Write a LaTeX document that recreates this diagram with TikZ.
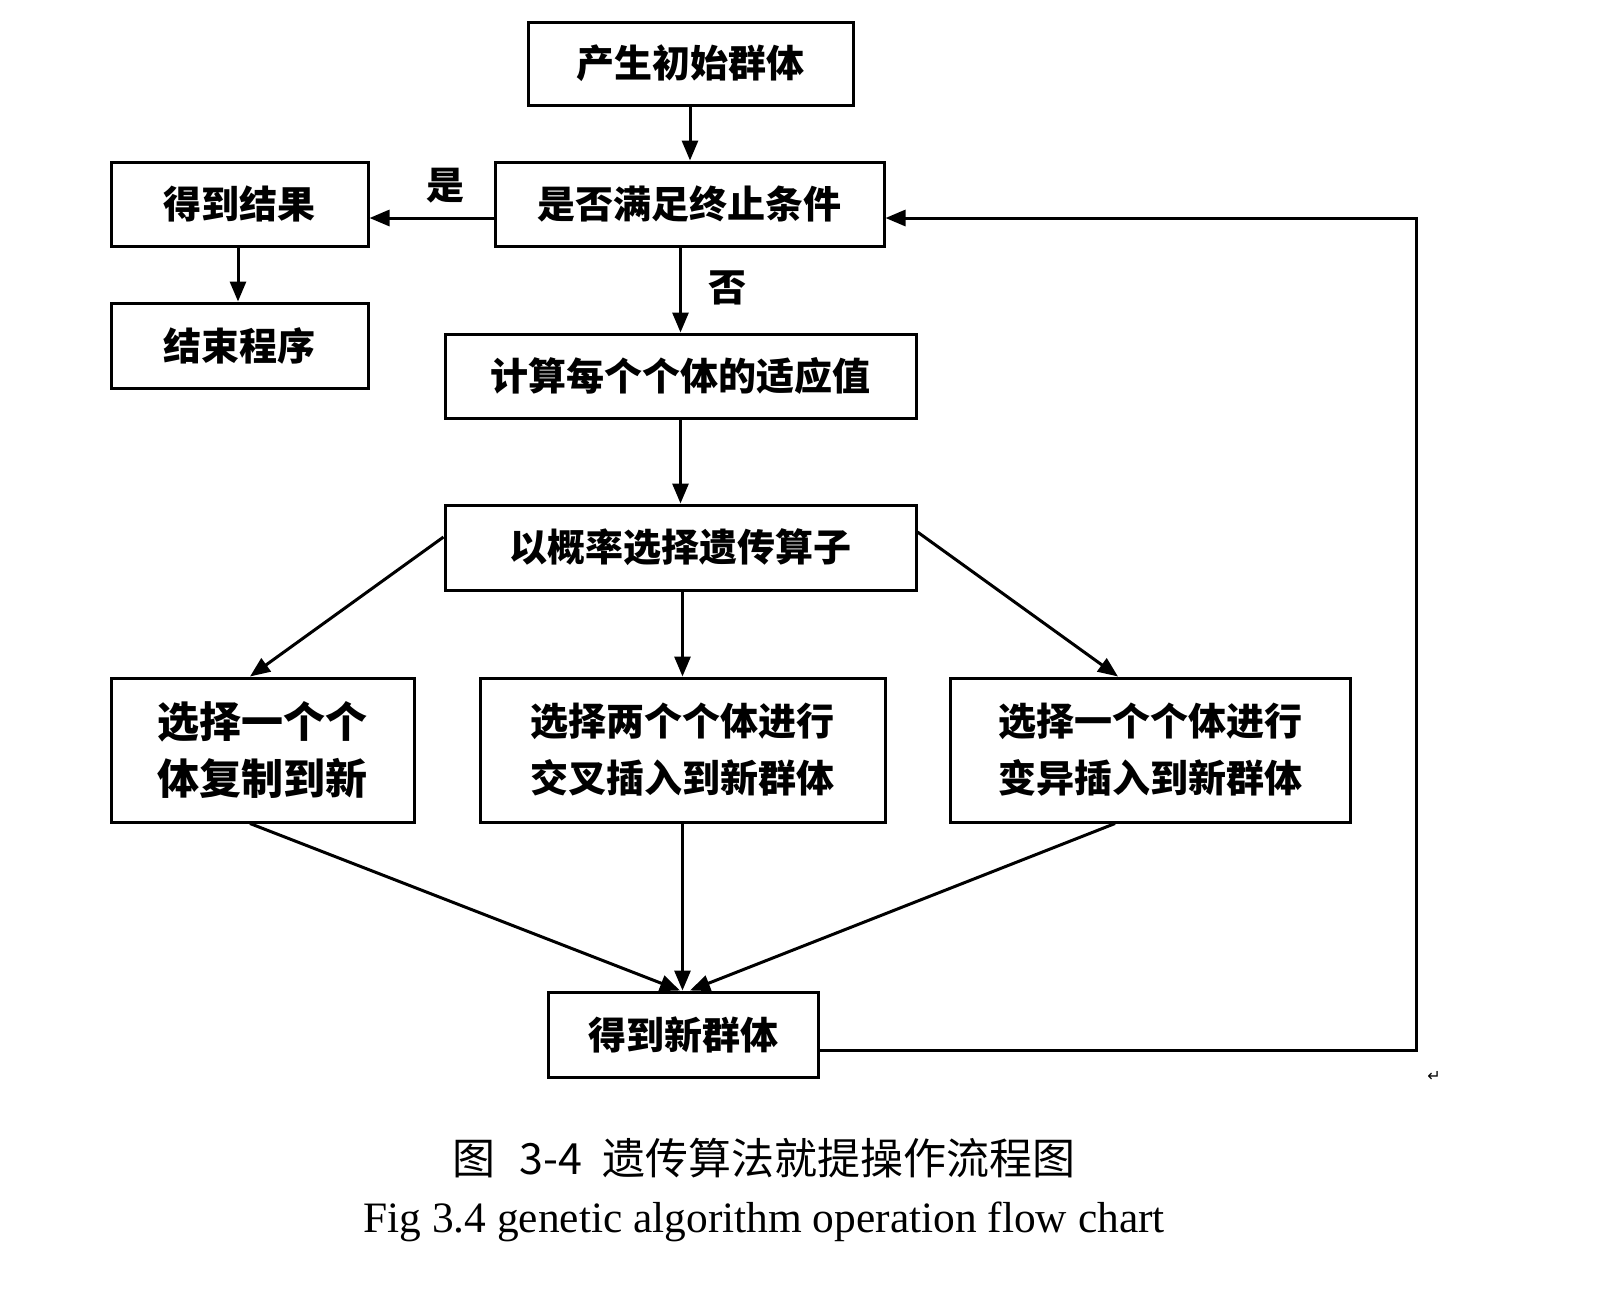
\documentclass[tikz,border=0pt]{standalone}
\usepackage{fontspec}
\setmainfont{Liberation Serif}
\newfontfamily\cjk{Noto Sans CJK SC}
\newfontfamily\dejavu{DejaVu Sans}
\usetikzlibrary{arrows.meta}
\begin{document}
\begin{tikzpicture}[x=0.5pt,y=-0.5pt,
  box/.style={draw, line width=1.5pt, inner sep=0pt, align=center,
    font=\cjk\bfseries\fontsize{19}{28.5}\selectfont},
  lbl/.style={inner sep=0pt, font=\cjk\bfseries\fontsize{19}{24}\selectfont},
  arr/.style={-{Triangle[length=10pt,width=8pt]}, line width=1.5pt},
  ln/.style={line width=1.5pt}]
\fill[white] (0,0) rectangle (1607,1303);
\useasboundingbox (0,0) rectangle (1607,1303);

\node[box, minimum width=162.5pt, minimum height=41.5pt] (start) at (690.5,63.5) {产生初始群体};
\node[box, minimum width=194.5pt, minimum height=42pt] (cond) at (689.5,204) {是否满足终止条件};
\node[box, minimum width=128.5pt, minimum height=42pt] (result) at (239.5,204) {得到结果};
\node[box, minimum width=128.5pt, minimum height=42.5pt] (endp) at (239.5,345.5) {结束程序};
\node[box, minimum width=235.5pt, minimum height=42pt] (fit) at (680.5,376) {计算每个个体的适应值};
\node[box, minimum width=235.5pt, minimum height=42.5pt] (sel) at (680.5,547.5) {以概率选择遗传算子};
\node[box, minimum width=151.5pt, minimum height=72pt, font=\cjk\bfseries\fontsize{21}{28.5}\selectfont] (copy) at (262.5,750) {选择一个个\\体复制到新};
\node[box, minimum width=202.5pt, minimum height=72pt] (cross) at (682.5,750) {选择两个个体进行\\交叉插入到新群体};
\node[box, minimum width=200pt, minimum height=72pt] (mut) at (1150,750) {选择一个个体进行\\变异插入到新群体};
\node[box, minimum width=135pt, minimum height=42.5pt] (newp) at (683,1034.5) {得到新群体};

\node[lbl] (yes) at (445,186) {是};
\node[lbl] (no) at (727,288) {否};

\coordinate (c1) at (1416,1050);
\coordinate (c2) at (1416,218);

\draw[arr] (start.south -| 690,0) -- (cond.north -| 690,0);
\draw[arr] (cond.west |- 0,218) -- (result.east |- 0,218);
\draw[arr] (result.south -| 238,0) -- (endp.north -| 238,0);
\draw[arr] (fit.north |- cond.south) -- (fit.north);
\draw[arr] (fit.south) -- (sel.north);
\draw[arr] (sel.west |- 0,537) -- (copy.north -| 250,0);
\draw[arr] (cross.north |- sel.south) -- (cross.north);
\draw[arr] (sel.east |- 0,532) -- (mut.north -| 1118,0);
\draw[arr] (copy.south -| 250,0) -- (newp.north -| 680,0);
\draw[arr] (cross.south) -- (cross.south |- newp.north);
\draw[arr] (mut.south -| 1115,0) -- (newp.north -| 690,0);
\draw[arr] (newp.east |- c1) -- (c1) -- (c2) -- (cond.east |- c2);

\node[inner sep=0pt, font=\dejavu\fontsize{8}{10}\selectfont] (pm) at (1434,1076) {↵};

\node[inner sep=0pt, font=\cjk\fontsize{21.5}{24}\selectfont] (cap1) at (764,1158) {图\hspace{12pt}3-4\hspace{10pt}遗传算法就提操作流程图};
\node[inner sep=0pt, font=\fontsize{21.7}{24}\selectfont] (cap2) at (764,1222) {Fig 3.4 genetic algorithm operation flow chart};
\end{tikzpicture}
\end{document}
